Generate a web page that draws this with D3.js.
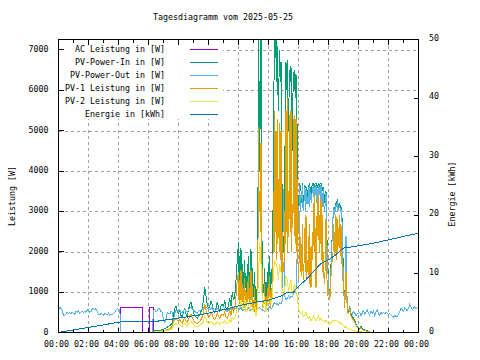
<!DOCTYPE html>
<html><head><meta charset="utf-8">
<script src="https://cdn.jsdelivr.net/npm/d3@7"></script>
<style>
html,body{margin:0;padding:0;background:#fff;}
svg{display:block;font-family:"DejaVu Sans Mono",monospace;}
</style></head><body>
<svg id="c" width="480" height="360"></svg>
<script>
// ---------------- data ----------------
const titleText = "Tagesdiagramm vom 2025-05-25";
const dayISO = "2025-05-25";
const yLabel = "Leistung [W]";
const y2Label = "Energie [kWh]";
const leftTicks = [0,1000,2000,3000,4000,5000,6000,7000];
const rightTicks = [0,10,20,30,40,50];
const xTickHours = [0,2,4,6,8,10,12,14,16,18,20,22,24];
const xMinorHours = [1,3,5,7,9,11,13,15,17,19,21,23];

const seriesNames = ["AC Leistung in [W]","PV-Power-In in [W]","PV-Power-Out in [W]",
                     "PV-1 Leistung in [W]","PV-2 Leistung in [W]","Energie in [kWh]"];
const seriesColors = ["#9400d3","#009e73","#56b4e9","#e69f00","#f0e442","#0072b2"];

// AC Leistung (only visible window)
const acTimes  = ["04:08","04:08","05:35","05:35","06:04","06:04","06:21","06:21"];
const acValues = [0,620,620,0,0,620,620,0];

// PV grid: 5-minute values from 06:20 to 20:50
const pvStart = "06:20", pvStepMin = 5;
const pvIn = [
 30,40,40,50,50,60,60,70,
 80,100,110,130,150,170,200,240,420,600,650,520,
 480,560,420,380,520,600,450,400,560,700,750,620,
 500,420,380,350,400,450,520,600,800,1120,900,700,
 600,650,780,700,550,500,600,750,620,520,650,700,
 650,800,600,550,700,850,650,1000,800,900,1300,1800,
 2240,1900,2100,1700,1500,1800,1300,1700,1900,1500,2060,1600,
 1200,1500,900,1300,7400,4000,7400,1800,1200,1600,1000,1500,
 1700,1900,1500,1800,5000,7400,7400,7100,5500,7000,6700,3500,
 2000,4000,6700,6750,5000,6500,6600,4500,6450,6500,6400,5000,
 3000,3700,3500,3700,3100,3650,3600,3300,3650,3700,3400,3650,
 3700,3650,3700,3600,3700,3650,3700,3500,3600,3200,3500,2000,
 1400,900,1700,2500,3000,3100,3200,3300,3150,3200,3100,2800,
 1300,700,1600,600,500,650,450,400,350,300,220,150,
 120,100,150,90,70,60,50,40,30,20,0];
const pv1 = [
 20,25,25,30,30,35,35,40,
 45,55,60,70,80,100,120,150,280,320,350,300,
 280,330,260,230,300,360,280,250,330,420,450,380,
 300,250,230,210,240,280,320,380,500,700,560,450,
 380,420,500,450,350,320,380,480,400,340,420,450,
 420,520,380,360,450,550,420,650,520,600,900,1300,
 1500,1300,1550,1200,1100,1350,1000,1250,1400,1100,1550,1150,
 800,1100,600,900,5100,3500,4700,1300,800,1200,700,1100,
 1200,1400,1000,1300,3500,5500,5000,5300,3800,5200,5000,2500,
 1500,3000,5500,5800,3500,5400,5500,3000,5300,5400,5300,3800,
 1300,3000,2000,2700,1300,2600,2900,1800,2400,2700,1100,2500,
 3200,3400,1100,3300,3450,2900,3300,2900,2000,1300,2800,1200,
 1100,800,1400,1900,2700,2500,2900,2800,2600,2900,2700,1800,
 1200,600,1500,550,450,600,400,350,300,260,180,120,
 100,80,120,70,60,50,40,30,25,15,0];
const pv2 = [
 10,15,15,20,20,25,25,30,
 35,40,45,50,60,70,80,100,180,200,220,200,
 180,210,160,150,200,230,180,160,200,260,280,240,
 200,170,150,140,160,180,200,230,300,400,330,260,
 220,240,280,260,200,190,220,280,240,200,240,260,
 250,300,230,220,280,320,250,380,320,360,450,600,
 700,600,800,650,550,900,500,600,700,550,800,600,
 500,700,400,600,1400,2240,1700,800,600,900,500,700,
 800,900,700,900,1500,1800,1700,1600,1300,1700,1500,1000,
 900,1100,1400,1300,1000,1200,1300,900,1100,1200,1000,900,
 600,500,450,500,400,450,500,400,350,400,300,350,
 400,350,300,350,400,300,350,300,300,250,300,250,
 250,200,250,300,300,280,300,280,260,250,220,200,
 180,120,150,100,90,80,70,60,50,40,30,25,
 20,15,15,10,10,5,5,5,0,0,0];

// in-between readings (every 5 min, offset 2.5 min) for the busy midday span
const midStart = "12:02:30", midStepMin = 5;
const pvInMid = [
 1100,1300,1000,1200,900,1100,950,1200,1000,1150,1000,900,
 800,700,750,2500,6000,6500,3000,900,1000,800,900,1000,
 1100,1000,1200,2500,6500,6800,6200,6000,6500,6200,4000,2500,
 2500,5500,6000,5500,6000,6200,5000,5800,6000,5800,5500,3500,
 3500,3600,3200,3500,3400,3600,3300,3500,3600,3500,3600,3700,
 3600,3700,3600,3650,3600,3700,3550,3600,3400,3400,2800,1600,
 1000,1200,2000,2800,3100,3000,3200,3100,3200,3100,2900,2000];
const pv1Mid = [
 700,800,700,750,600,700,650,750,700,800,700,600,
 500,450,500,1500,3000,2500,2000,600,700,500,600,700,
 700,600,800,1500,2000,2500,1800,2200,2000,1800,1500,1500,
 1800,2200,2500,2000,2800,2500,2000,2600,2400,2200,2000,1800,
 1800,1500,1400,1600,1800,1500,1300,1500,1200,1400,1600,1800,
 2000,1500,2200,2400,2000,2200,1800,1500,1200,1800,1500,900,
 900,1000,1500,1800,1900,2000,1800,2000,2100,1900,1700,1300];

// PV-Power-Out: 5-minute values over the whole day 00:00 .. 24:00
const pvOutStart = "00:00", pvOutStepMin = 5;
const pvOut = [
 560,620,600,540,430,420,460,500,470,490,
 460,500,480,450,520,500,540,480,510,530,
 490,520,500,560,540,500,520,580,600,560,
 590,520,460,440,480,450,430,470,460,440,
 480,420,460,440,480,500,560,590,570,580,
 0,0,0,0,0,0,0,0,0,0,0,0,0,0,0,0,0,0,0,0,0,0,0,0,0,0,
 550,560,520,540,600,580,520,500,
 320,260,300,500,480,460,520,500,300,480,560,540,
 520,560,480,500,540,580,520,500,560,600,620,580,
 560,520,500,480,520,540,560,580,600,650,620,600,
 580,560,600,620,540,520,560,600,580,540,560,580,
 560,600,540,520,560,600,560,620,600,580,600,620,
 600,580,620,560,540,580,520,560,600,540,580,560,
 540,560,520,560,600,620,580,560,540,520,560,580,
 600,640,580,620,700,750,700,720,680,740,700,800,
 3550,900,800,850,900,850,900,900,950,1000,1100,2000,
 2800,3650,3400,3650,3000,3600,3550,3200,3600,3650,3300,3600,
 3650,3600,3650,3550,3650,3600,3650,3450,3550,3100,3450,1900,
 1300,820,1600,2400,3100,3050,3150,3250,3100,3150,3050,2700,
 1100,650,2400,600,550,620,480,450,520,480,420,460,
 460,500,420,480,540,450,500,560,480,430,520,
 480,540,420,500,560,460,430,500,
 470,490,460,500,480,450,470,440,
 410,380,420,400,390,450,
 520,600,560,520,620,580,540,600,700,640,560,600,650,580,620,600];
const pvOutMidStart = "16:02:30";
const pvOutMid = [
 3200,3000,3300,3100,3300,3000,3200,3300,3100,3300,3200,3500,
 3300,3400,3200,3300,3400,3300,3200,3100,3000,3200,2600,1500,
 1000,1200,2000,2800,2900,3000,3100,3000,3100,3000,2800,1800];

// Energie [kWh]
const energyTimes  = ["00:00","01:00","02:00","03:00","04:10","06:20","07:00","08:00","09:00","10:00",
                      "11:00","12:00","13:00","14:00","14:50","15:10","15:40","16:00","16:30","17:00",
                      "17:30","18:00","18:30","19:00","19:30","20:00","21:00","22:00","23:00","24:00"];
const energyValues = [0,0.45,0.85,1.3,1.82,1.82,2.1,2.45,2.85,3.3,
                      3.9,4.55,5.1,5.5,6.2,6.75,6.9,7.9,9.0,10.4,
                      11.8,12.4,13.3,14.4,14.6,14.8,15.25,15.8,16.4,16.95];

// ---------------- helpers ----------------
const base = new Date(dayISO + "T00:00:00Z").getTime();
function hm(s){ const p = s.split(":").map(Number); return new Date(base + ((p[0]*60+p[1])*60 + (p[2]||0))*1000); }
function gridSeries(start, stepMin, vals){
  const t0 = hm(start).getTime();
  return vals.map((v,i)=>({t:new Date(t0 + i*stepMin*60000), v}));
}
function withMids(main, mids){
  return main.concat(mids).sort((a,b)=>a.t-b.t);
}

// ---------------- chart ----------------
const svg = d3.select("#c");
const L = 58.5, R = 418.5, T = 39.5, B = 332.5;
const x = d3.scaleUtc().domain([hm("00:00"), hm("24:00")]).range([L, R]);
const yL = d3.scaleLinear().domain([0, 7260]).range([B, T]);
const yR = d3.scaleLinear().domain([0, 50]).range([B, T]);
const fs = 8.3;

svg.append("text").attr("x", 223).attr("y", 20).attr("text-anchor","middle")
  .attr("font-size", fs).text(titleText);

// grid
const g = svg.append("g").attr("stroke","#a0a0a0").attr("stroke-dasharray","3,3")
  .attr("shape-rendering","crispEdges");
leftTicks.filter(v=>v>0).forEach(v=>{
  g.append("line").attr("x1",L).attr("x2",R).attr("y1",Math.round(yL(v))+0.5).attr("y2",Math.round(yL(v))+0.5);
});
xTickHours.filter(h=>h>0 && h<24).forEach(h=>{
  const xx = Math.round(x(hm(h+":00")) - 0.5) + 0.5;
  g.append("line").attr("x1",xx).attr("x2",xx).attr("y1",T).attr("y2",B);
});
// opaque key area
svg.append("rect").attr("x",59).attr("y",40).attr("width",164).attr("height",79).attr("fill","#fff");

// data
svg.append("clipPath").attr("id","clip").append("rect")
  .attr("x",L).attr("y",T).attr("width",R-L).attr("height",B-T);
const dg = svg.append("g").attr("clip-path","url(#clip)");
const lineL = d3.line().x(d=>x(d.t)).y(d=>yL(d.v));
const lineR = d3.line().x(d=>x(d.t)).y(d=>yR(d.v));

const acData = acTimes.map((t,i)=>({t:hm(t), v:acValues[i]}));
const series = [
  {d: acData, c: seriesColors[0], ln: lineL},
  {d: withMids(gridSeries(pvStart, pvStepMin, pvIn), gridSeries(midStart, midStepMin, pvInMid)), c: seriesColors[1], ln: lineL},
  {d: withMids(gridSeries(pvOutStart, pvOutStepMin, pvOut), gridSeries(pvOutMidStart, midStepMin, pvOutMid)), c: seriesColors[2], ln: lineL},
  {d: withMids(gridSeries(pvStart, pvStepMin, pv1), gridSeries(midStart, midStepMin, pv1Mid)), c: seriesColors[3], ln: lineL},
  {d: gridSeries(pvStart, pvStepMin, pv2), c: seriesColors[4], ln: lineL},
  {d: energyTimes.map((t,i)=>({t:hm(t), v:energyValues[i]})), c: seriesColors[5], ln: lineR}
];
series.forEach(s=>{
  dg.append("path").attr("d", s.ln(s.d)).attr("fill","none").attr("stroke", s.c)
    .attr("stroke-width", 1).attr("shape-rendering","crispEdges");
});

// border
svg.append("rect").attr("x",L).attr("y",T).attr("width",R-L).attr("height",B-T)
  .attr("fill","none").attr("stroke","#000").attr("stroke-width",1).attr("shape-rendering","crispEdges");

// ticks
const tk = svg.append("g").attr("stroke","#000").attr("shape-rendering","crispEdges");
xTickHours.forEach(h=>{
  const xx = Math.round(x(hm(h+":00")) - 0.5) + 0.5;
  tk.append("line").attr("x1",xx).attr("x2",xx).attr("y1",B).attr("y2",B-5);
  tk.append("line").attr("x1",xx).attr("x2",xx).attr("y1",T).attr("y2",T+5);
});
xMinorHours.forEach(h=>{
  const xx = Math.round(x(hm(h+":00")) - 0.5) + 0.5;
  tk.append("line").attr("x1",xx).attr("x2",xx).attr("y1",B).attr("y2",B-3);
  tk.append("line").attr("x1",xx).attr("x2",xx).attr("y1",T).attr("y2",T+3);
});
leftTicks.forEach(v=>{
  const yy = Math.round(yL(v)-0.5)+0.5;
  tk.append("line").attr("x1",L).attr("x2",L+5).attr("y1",yy).attr("y2",yy);
});
rightTicks.forEach(v=>{
  const yy = Math.round(yR(v)-0.5)+0.5;
  tk.append("line").attr("x1",R).attr("x2",R-5).attr("y1",yy).attr("y2",yy);
});

// tick labels
const fmt = d3.utcFormat("%H:%M");
xTickHours.forEach(h=>{
  svg.append("text").attr("x", x(hm(h+":00")) - 2).attr("y", 347).attr("text-anchor","middle")
    .attr("font-size", fs).text(fmt(hm(h+":00")));
});
leftTicks.forEach(v=>{
  svg.append("text").attr("x", 48.5).attr("y", yL(v) + 2).attr("text-anchor","end")
    .attr("font-size", fs).text(v);
});
rightTicks.forEach(v=>{
  svg.append("text").attr("x", 429).attr("y", yR(v) + 1).attr("text-anchor","start")
    .attr("font-size", fs).text(v);
});

// axis labels
svg.append("text").attr("transform","translate(15,196) rotate(-90)").attr("text-anchor","middle")
  .attr("font-size", fs).text(yLabel);
svg.append("text").attr("transform","translate(455,194) rotate(-90)").attr("text-anchor","middle")
  .attr("font-size", fs).text(y2Label);

// legend
seriesNames.forEach((n,i)=>{
  const ly = Math.round(49 + 13.07*i) + 0.5;
  svg.append("text").attr("x",165).attr("y", ly + 2).attr("text-anchor","end")
    .attr("font-size", fs).text(n);
  svg.append("line").attr("x1",190).attr("x2",218).attr("y1",ly).attr("y2",ly)
    .attr("stroke", seriesColors[i]).attr("stroke-width",1).attr("shape-rendering","crispEdges");
});
</script>
</body></html>
